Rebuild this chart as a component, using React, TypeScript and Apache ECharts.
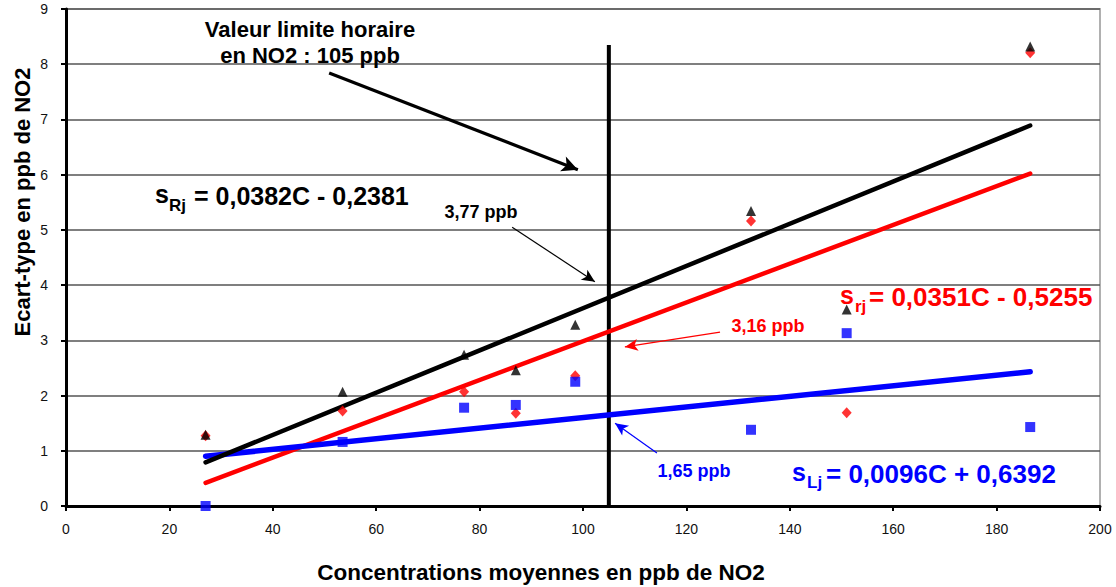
import React, { useEffect, useRef } from "react";
import * as echarts from "echarts";

// Concentrations moyennes (ppb NO2)
const xValues = [27, 53.5, 77, 87, 98.5, 132.5, 151, 186.5];
// s_Rj (black triangles)
const sRjValues = [1.29, 2.07, 2.74, 2.46, 3.28, 5.34, 3.56, 8.32];
// s_rj (red diamonds)
const srjValues = [1.27, 1.72, 2.07, 1.68, 2.36, 5.16, 1.69, 8.21];
// s_Lj (blue squares)
const sLjValues = [0.0, 1.16, 1.78, 1.83, 2.25, 1.38, 3.13, 1.43];

// Regression line endpoints [x, y]
const sRjTrend = [[27, 0.79], [186.5, 6.89]];
const srjTrend = [[27, 0.42], [186.5, 6.02]];
const sLjTrend = [[27, 0.9], [186.5, 2.43]];

// Limit value line (105 ppb)
const limitLine = [[105, 0], [105, 8.35]];

// Annotation arrows [start, end]
const arrowLimit = [[50.9, 7.84], [99.0, 6.09]];
const arrow377 = [[86.3, 5.05], [102.3, 4.06]];
const arrow316 = [[126.5, 3.15], [108.1, 2.88]];
const arrow165 = [[114.3, 0.96], [106.2, 1.5]];

const xTicks = { min: 0, max: 200, interval: 20 };
const yTicks = { min: 0, max: 9, interval: 1 };

const FONT = "'Liberation Sans', Arial, sans-serif";

function pairs(a: number[], b: number[]) {
  return a.map((x, i) => [x, b[i]]);
}

function arrowItem(a: number[][], color: string, width: number, size: number[]) {
  return [
    { coord: a[0], symbol: "none", lineStyle: { color, width, type: "solid" } },
    { coord: a[1], symbol: "arrow", symbolSize: size },
  ];
}

export default function App() {
  const ref = useRef<HTMLDivElement>(null);
  useEffect(() => {
    const chart = echarts.init(ref.current!, null, { renderer: "svg" });
    const txt = (
      text: string,
      x: number,
      y: number,
      size: number,
      color: string,
      align: string = "left",
      extra: any = {}
    ) => ({
      type: "text",
      x,
      y,
      silent: true,
      z: 100,
      ...extra,
      style: {
        text,
        fill: color,
        font: `bold ${size}px ${FONT}`,
        textAlign: align,
        textVerticalAlign: "middle",
        ...(extra.style || {}),
      },
    });
    chart.setOption({
      animation: false,
      backgroundColor: "#ffffff",
      grid: {
        left: 66,
        right: 16,
        top: 9,
        bottom: 81,
        show: true,
        borderColor: "#b0b0b0",
        borderWidth: 2,
        containLabel: false,
      },
      xAxis: {
        type: "value",
        ...xTicks,
        axisLine: { show: true, onZero: false, lineStyle: { color: "#000", width: 3 } },
        axisTick: { show: true, inside: false, length: 5, lineStyle: { color: "#000", width: 2 } },
        axisLabel: { color: "#111", fontFamily: FONT, fontSize: 14, margin: 16 },
        splitLine: { show: false },
      },
      yAxis: {
        type: "value",
        ...yTicks,
        axisLine: { show: true, onZero: false, lineStyle: { color: "#000", width: 3 } },
        axisTick: { show: true, inside: false, length: 5, lineStyle: { color: "#000", width: 2 } },
        axisLabel: { color: "#111", fontFamily: FONT, fontSize: 14, margin: 18 },
        splitLine: { show: true, lineStyle: { color: "#555555", width: 1.6 } },
      },
      series: [
        {
          type: "line",
          data: limitLine,
          symbol: "none",
          lineStyle: { color: "#000", width: 4 },
          z: 3,
          markLine: {
            silent: true,
            animation: false,
            label: { show: false },
            symbol: ["none", "arrow"],
            data: [
              arrowItem(arrowLimit, "#000", 3.2, [12, 16]),
              arrowItem(arrow377, "#000", 1.2, [9, 13]),
              arrowItem(arrow316, "#ff0000", 1.2, [9, 13]),
              arrowItem(arrow165, "#0000ff", 1.2, [9, 13]),
            ],
          },
        },
        {
          type: "line",
          data: srjTrend,
          symbol: "none",
          lineStyle: { color: "#ff0000", width: 4.5, cap: "round" },
          z: 4,
        },
        {
          type: "line",
          data: sLjTrend,
          symbol: "none",
          lineStyle: { color: "#0000ff", width: 5.5, cap: "round" },
          z: 5,
        },
        {
          type: "line",
          data: sRjTrend,
          symbol: "none",
          lineStyle: { color: "#000000", width: 4.5, cap: "round" },
          z: 6,
        },
        {
          type: "scatter",
          data: pairs(xValues, srjValues),
          symbol: "diamond",
          symbolSize: [10, 11],
          itemStyle: { color: "#ff0000" },
          z: 7,
        },
        {
          type: "scatter",
          data: pairs(xValues, sRjValues),
          symbol: "triangle",
          symbolSize: [10, 10],
          itemStyle: { color: "#000000" },
          z: 8,
        },
        {
          type: "scatter",
          data: pairs(xValues, sLjValues),
          symbol: "rect",
          symbolSize: 10,
          itemStyle: { color: "#0000ff" },
          z: 9,
        },
      ],
      graphic: [
        txt("Valeur limite horaire", 310, 29, 22, "#000", "center"),
        txt("en NO2 : 105 ppb", 310, 55, 22, "#000", "center"),
        txt("s", 155, 194, 25, "#000"),
        txt("Rj", 169, 205, 17, "#000"),
        txt("= 0,0382C - 0,2381", 194, 196, 25, "#000"),
        txt("3,77 ppb", 481, 212, 18, "#000", "center"),
        txt("s", 840, 295, 25, "#ff0000"),
        txt("rj", 855, 306, 17, "#ff0000"),
        txt("= 0,0351C - 0,5255", 869, 297, 26, "#ff0000"),
        txt("3,16 ppb", 768, 326, 18, "#ff0000", "center"),
        txt("s", 792, 472, 25, "#0000ff"),
        txt("Lj", 807, 482, 17, "#0000ff"),
        txt("= 0,0096C + 0,6392", 826, 474, 26, "#0000ff"),
        txt("1,65 ppb", 694, 471, 18, "#0000ff", "center"),
        txt("Concentrations moyennes en ppb de NO2", 541, 572, 22.5, "#000", "center"),
        txt("Ecart-type en ppb de NO2", 22, 202, 22, "#000", "center", { rotation: Math.PI / 2 }),
      ],
    });
    return () => chart.dispose();
  }, []);
  return (
    <div
      ref={ref}
      style={{ position: "absolute", left: 0, top: 0, width: 1116, height: 587, background: "#fff" }}
    />
  );
}
